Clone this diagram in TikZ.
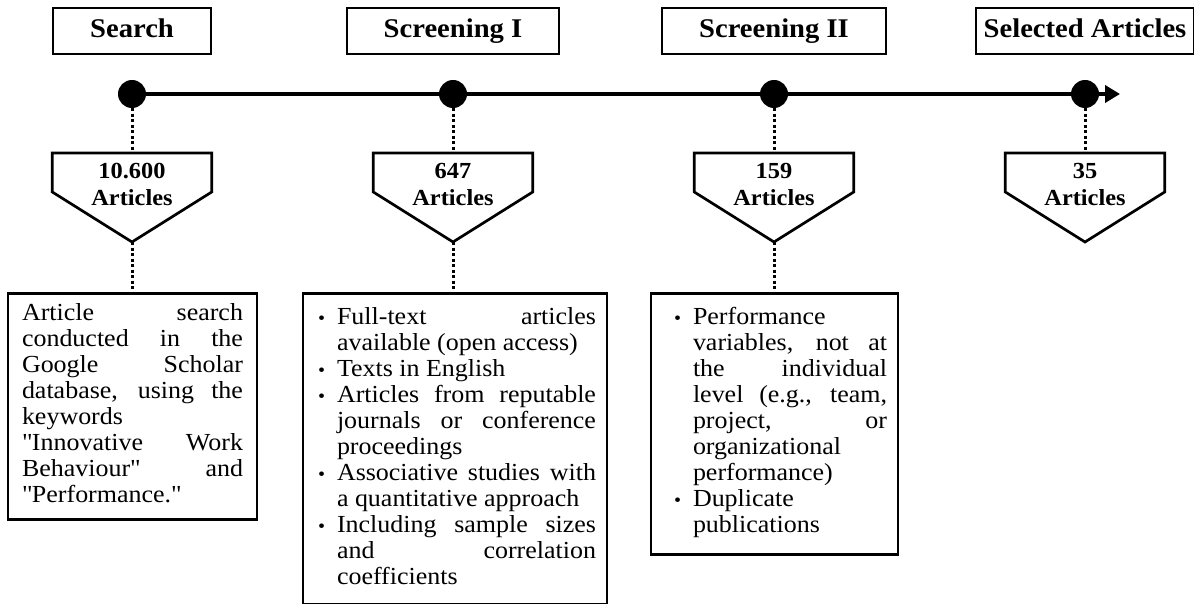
\documentclass[tikz,border=0pt]{standalone}
\usepackage{fontspec}
\setmainfont[FakeStretch=1.06]{Liberation Serif}
\usetikzlibrary{arrows.meta}

\newcommand{\nohyph}{\hyphenpenalty=10000\relax\exhyphenpenalty=10000\relax}
\newcommand{\critem}[1]{\par\noindent\hangindent=19pt\hangafter=1%
  \makebox[19pt][l]{\fontsize{19}{19}\selectfont\textbullet}#1}
\newcommand{\padbottom}[1]{\par\vskip#1\hrule height 0pt width 0pt}

\begin{document}
\begin{tikzpicture}[x=1pt, y=1pt,
every node/.style={inner sep=0pt},
titlebox/.style={draw, line width=2.3pt, minimum height=46pt, text height=19pt, text depth=6pt,
    font=\fontsize{27}{30}\selectfont\bfseries},
countbox/.style={anchor=north, minimum width=159pt, minimum height=62pt, align=center,
    font=\fontsize{23}{27}\selectfont\bfseries},
descbox/.style={draw, line width=2.7pt, anchor=north, inner xsep=11pt, align=justify,
    font=\fontsize{24.5}{26}\selectfont\nohyph},
stage/.style={circle, fill, minimum size=28pt},
outline/.style={line width=2.7pt, line join=miter},
dotline/.style={line width=3pt, dash pattern=on 3pt off 2.5pt},
mainline/.style={line width=4pt}
]
\useasboundingbox (0,0) rectangle (1194,-604);

\foreach \i/\x/\ttl/\num/\pad in {1/132/Search/10.600/37pt,
                                  2/453/Screening I/647/37pt,
                                  3/774/Screening II/159/37pt,
                                  4/1085/Selected Articles/35/8pt}{
  \node[titlebox, inner xsep=\pad] (h\i) at (\x,-31) {\ttl};
  \node[stage] (dot\i) at (\x,-94) {};
  \node[countbox] (n\i) at (\x,-153) {\num\\Articles};
  \coordinate (t\i) at ([yshift=-89pt]n\i.north);
  \draw[outline] (n\i.north west) -- (n\i.north east) -- ([yshift=-39pt]n\i.north east)
    -- (t\i) -- ([yshift=-39pt]n\i.north west) -- cycle;
  \draw[dotline] (dot\i) -- (n\i.north);
}

\coordinate (end) at (1120,-94);
\draw[mainline] (dot1) -- (dot4);
\draw[mainline, -{Triangle[length=15pt, width=17pt]}] (dot4) -- (end);

\node[descbox, text width=221pt, inner xsep=14pt, minimum height=226pt] (d1) at (132.5,-292)
  {Article search\linebreak conducted in the\linebreak Google Scholar\linebreak
   database, using the\linebreak keywords\linebreak \textquotedbl Innovative Work\linebreak
   Behaviour\textquotedbl{} and\linebreak \textquotedbl Performance.\textquotedbl
   \padbottom{6pt}};

\node[descbox, text width=282pt, minimum height=311pt] (d2) at (455,-292)
  {\leftskip=4pt\relax
   \critem{Full-text articles\linebreak available (open access)}
   \critem{Texts in English}
   \critem{Articles from reputable\linebreak journals or conference\linebreak proceedings}
   \critem{Associative studies with\linebreak a quantitative approach}
   \critem{Including sample sizes\linebreak and correlation\linebreak coefficients}
   \padbottom{14pt}};

\node[descbox, text width=225pt, minimum height=261pt] (d3) at (774.5,-292)
  {\leftskip=12pt\relax
   \critem{Performance\linebreak variables, not at\linebreak the individual\linebreak
     level (e.g., team,\linebreak project, or\linebreak organizational\linebreak performance)}
   \critem{Duplicate\linebreak publications}
   \padbottom{12pt}};

\foreach \i in {1,2,3}
    \draw[dotline] (t\i) -- (t\i |- d\i.north);

\end{tikzpicture}
\end{document}
